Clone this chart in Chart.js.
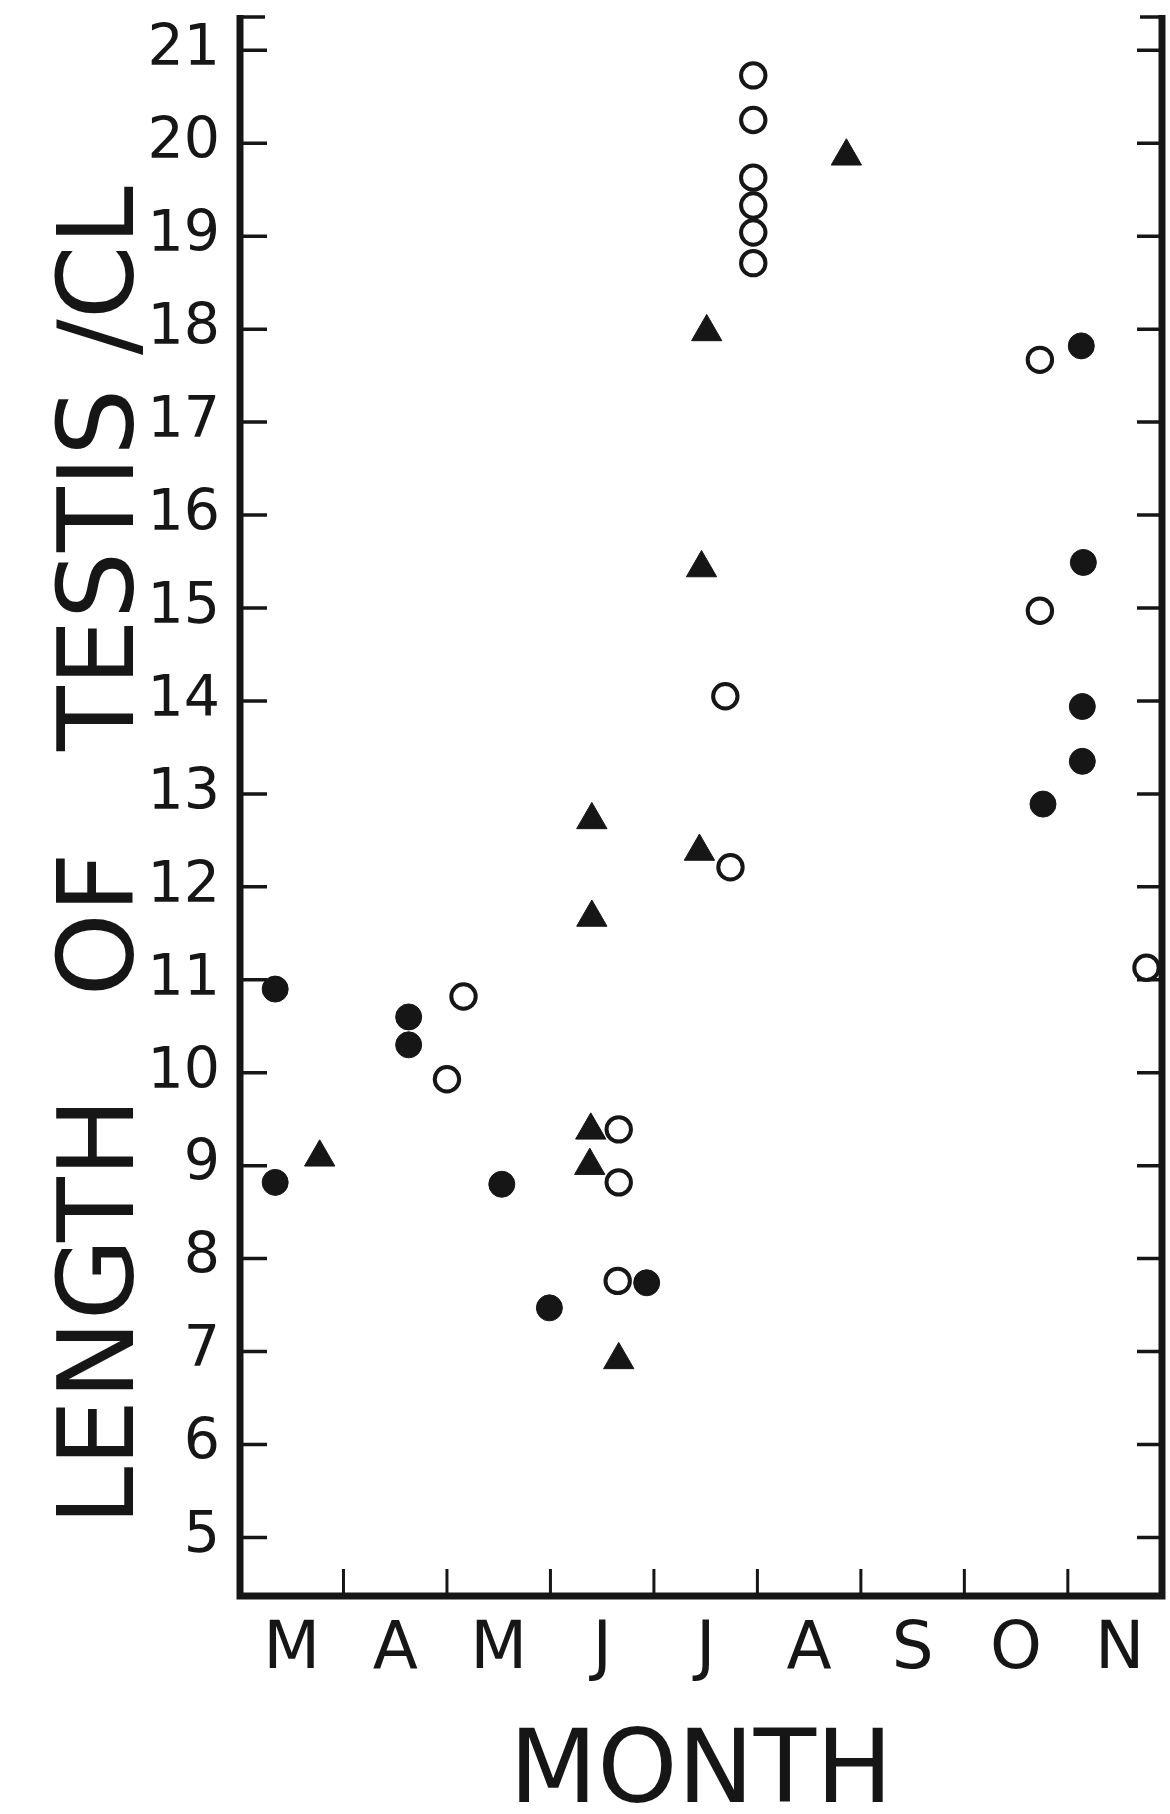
<!DOCTYPE html>
<html>
<head>
<meta charset="utf-8">
<title>Length of testis / CL by month</title>
<script src="https://cdn.jsdelivr.net/npm/chart.js@4.4.1/dist/chart.umd.min.js"></script>
<style>
  html, body { margin: 0; padding: 0; background: #fff; overflow: hidden; }
  #wrap { width: 1170px; height: 1814px; position: relative; }
  #testis-chart { display: block; }
</style>
</head>
<body>
<div id="wrap"><canvas id="testis-chart"></canvas></div>
<script>
// month letters, March .. November; x = months since 1 March
const months = ['M', 'A', 'M', 'J', 'J', 'A', 'S', 'O', 'N'];
const yTickValues = [5, 6, 7, 8, 9, 10, 11, 12, 13, 14, 15, 16, 17, 18, 19, 20, 21];

// filled circles
const filledX = [0.34, 0.34, 1.63, 1.63, 2.53, 2.99, 3.93, 8.13, 8.15, 8.14, 8.14, 7.76];
const filledY = [10.9, 8.82, 10.6, 10.3, 8.8, 7.47, 7.74, 17.82, 15.49, 13.94, 13.35, 12.89];

// open circles
const openX = [2.16, 2.00, 3.66, 3.66, 3.65, 4.96, 4.96, 4.96, 4.96, 4.96, 4.96, 4.69, 4.74, 7.73, 7.73, 8.76];
const openY = [10.82, 9.93, 9.39, 8.82, 7.76, 20.73, 20.25, 19.63, 19.33, 19.04, 18.71, 14.05, 12.21, 17.67, 14.97, 11.13];

// filled triangles
const triX = [0.77, 3.40, 3.40, 3.39, 3.38, 3.66, 4.51, 4.46, 4.44, 5.86];
const triY = [9.09, 12.72, 11.67, 9.38, 9.0, 6.91, 17.97, 15.43, 12.38, 19.86];

const ink = '#161616';
const font = "'DejaVu Sans', sans-serif";

function pts(xs, ys) {
    return xs.map((x, i) => ({ x: x, y: ys[i] }));
}

// axis lines plus inward tick marks, the way the original is drawn
const frameTicks = {
    id: 'frameTicks',
    afterDraw(chart) {
        const { ctx, chartArea: a, scales: { x, y } } = chart;
        ctx.save();
        ctx.strokeStyle = ink;
        ctx.lineCap = 'butt';

        ctx.lineWidth = 7;
        ctx.beginPath();
        ctx.moveTo(a.left, a.top);
        ctx.lineTo(a.left, a.bottom);
        ctx.lineTo(a.right, a.bottom);
        ctx.lineTo(a.right, a.top);
        ctx.stroke();

        ctx.lineWidth = 3.5;
        ctx.beginPath();
        yTickValues.forEach(v => {
            const py = y.getPixelForValue(v);
            ctx.moveTo(a.left, py);
            ctx.lineTo(a.left + 27, py);
            ctx.moveTo(a.right, py);
            ctx.lineTo(a.right - 25, py);
        });
        // caps at the top of both uprights
        ctx.moveTo(a.left, a.top + 2);
        ctx.lineTo(a.left + 25, a.top + 2);
        ctx.moveTo(a.right, a.top + 2);
        ctx.lineTo(a.right - 22, a.top + 2);
        ctx.stroke();

        ctx.lineWidth = 3;
        ctx.beginPath();
        for (let i = 1; i < months.length; i++) {
            const px = x.getPixelForValue(i);
            ctx.moveTo(px, a.bottom);
            ctx.lineTo(px, a.bottom - 27);
        }
        ctx.stroke();
        ctx.restore();
    }
};

const ctx = document.getElementById('testis-chart').getContext('2d');
new Chart(ctx, {
    type: 'scatter',
    data: {
        datasets: [
            {
                label: 'open',
                data: pts(openX, openY),
                pointStyle: 'circle',
                pointRadius: 12.2,
                pointBackgroundColor: '#fff',
                pointBorderColor: ink,
                pointBorderWidth: 4
            },
            {
                label: 'filled',
                data: pts(filledX, filledY),
                pointStyle: 'circle',
                pointRadius: 13,
                pointBackgroundColor: ink,
                pointBorderColor: ink,
                pointBorderWidth: 1
            },
            {
                label: 'triangle',
                data: pts(triX, triY),
                pointStyle: 'triangle',
                pointRadius: 17.5,
                pointBackgroundColor: ink,
                pointBorderColor: ink,
                pointBorderWidth: 1
            }
        ]
    },
    options: {
        responsive: true,
        maintainAspectRatio: false,
        animation: false,
        clip: false,
        layout: {
            autoPadding: false,
            padding: { top: 15, right: 8, left: 0, bottom: 0 }
        },
        plugins: {
            legend: { display: false },
            tooltip: { enabled: false }
        },
        scales: {
            x: {
                type: 'linear',
                min: 0,
                max: 8.91,
                grid: { display: false, drawTicks: false },
                border: { display: false },
                afterBuildTicks: s => { s.ticks = months.map((m, i) => ({ value: i + 0.5 })); },
                afterFit: s => {
                    s.height = 218;
                    s.paddingLeft = 0;
                    s.paddingRight = 0;
                },
                ticks: {
                    autoSkip: false,
                    maxRotation: 0,
                    padding: 15,
                    color: ink,
                    font: { family: font, size: 66 },
                    callback: (v, i) => months[i]
                },
                title: {
                    display: true,
                    text: 'MONTH',
                    color: ink,
                    font: { family: font, size: 102, lineHeight: 0.76 },
                    padding: { top: 0, bottom: 0 }
                }
            },
            y: {
                type: 'linear',
                min: 4.37,
                max: 21.38,
                grid: { display: false, drawTicks: false },
                border: { display: false },
                afterBuildTicks: s => { s.ticks = yTickValues.map(v => ({ value: v })); },
                afterFit: s => {
                    s.width = 240;
                    s.paddingTop = 0;
                    s.paddingBottom = 0;
                },
                ticks: {
                    padding: 20,
                    color: ink,
                    font: { family: font, size: 57 },
                    callback: v => String(v)
                },
                title: {
                    display: true,
                    text: 'LENGTH   OF   TESTIS /CL   ',
                    color: ink,
                    font: { family: font, size: 106, lineHeight: 1 },
                    padding: { top: 52, bottom: 0 }
                }
            }
        }
    },
    plugins: [frameTicks]
});
</script>
</body>
</html>
